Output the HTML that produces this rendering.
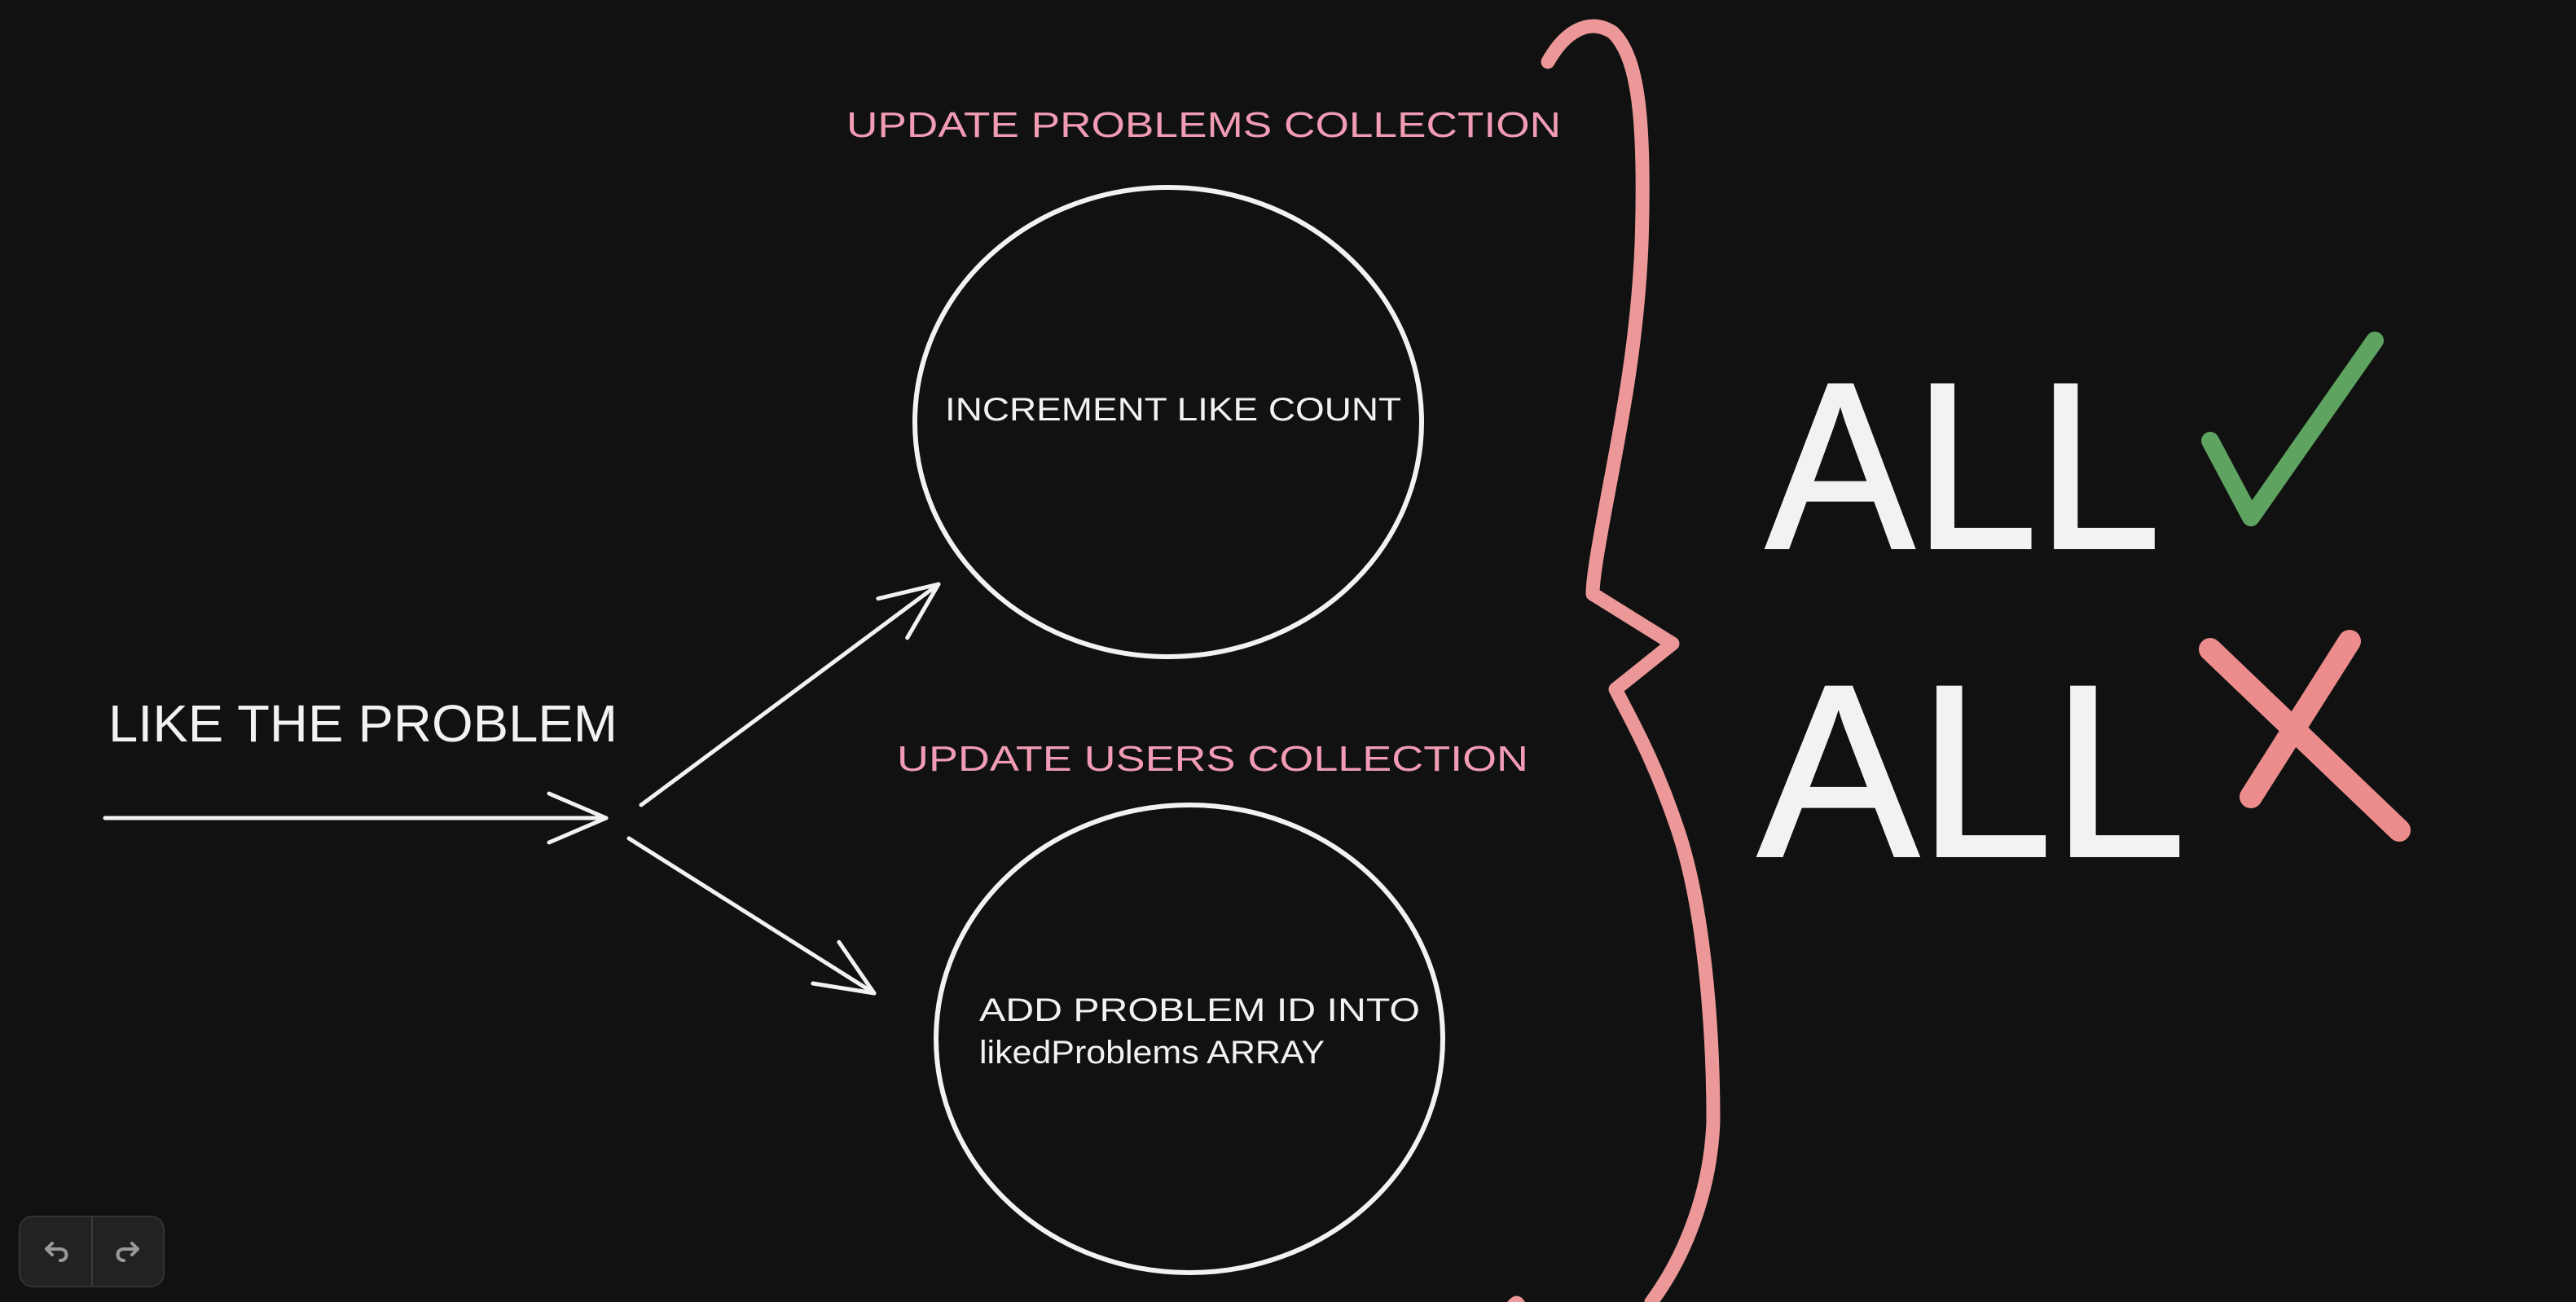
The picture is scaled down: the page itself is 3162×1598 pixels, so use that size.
<!DOCTYPE html>
<html><head><meta charset="utf-8"><style>
html,body{margin:0;padding:0;background:#111111;}
svg{display:block}
text{font-family:"Liberation Sans",sans-serif;}
</style></head><body>
<svg width="3162" height="1598" viewBox="0 0 3162 1598" xmlns="http://www.w3.org/2000/svg">
<defs>
<marker id="ah" markerWidth="20" markerHeight="20" refX="0" refY="0" viewBox="-16 -10 20 20" orient="auto" markerUnits="strokeWidth">
<path d="M-14,-6 L0,0 L-14,6" fill="none" stroke="#f2f2f2" stroke-width="1" stroke-linecap="round" stroke-linejoin="round"/>
</marker>
</defs>
<rect width="3162" height="1598" fill="#111111"/>
<g fill="#f19cb4" font-size="44">
<text x="1039" y="168" textLength="877" lengthAdjust="spacingAndGlyphs">UPDATE PROBLEMS COLLECTION</text>
<text x="1101" y="946" textLength="775" lengthAdjust="spacingAndGlyphs">UPDATE USERS COLLECTION</text>
</g>
<ellipse cx="1434" cy="518" rx="311" ry="288" fill="none" stroke="#f2f2f2" stroke-width="6"/>
<ellipse cx="1460" cy="1275" rx="311" ry="287" fill="none" stroke="#f2f2f2" stroke-width="6"/>
<g fill="#f2f2f2">
<text x="1160" y="516" font-size="40" textLength="560" lengthAdjust="spacingAndGlyphs">INCREMENT LIKE COUNT</text>
<text x="133" y="910" font-size="64" textLength="625" lengthAdjust="spacingAndGlyphs">LIKE THE PROBLEM</text>
<text x="1202" y="1253" font-size="40" textLength="541" lengthAdjust="spacingAndGlyphs">ADD PROBLEM ID INTO</text>
<text x="1202" y="1305" font-size="40" textLength="424" lengthAdjust="spacingAndGlyphs">likedProblems ARRAY</text>
</g>
<g stroke="#f2f2f2" stroke-width="5" stroke-linecap="round" fill="none">
<line x1="129" y1="1004" x2="744" y2="1004" marker-end="url(#ah)"/>
<line x1="787" y1="988" x2="1152" y2="717" marker-end="url(#ah)"/>
<line x1="772" y1="1029" x2="1073" y2="1219" marker-end="url(#ah)"/>
</g>
<path d="M1900,76 C1920,40 1950,20 1980,40 C2010,70 2020,140 2015,300 C2010,420 1990,520 1973,611 C1962,670 1955,710 1955,729 L2053,790 L1983,846 C2000,880 2030,930 2060,1020 C2090,1110 2103,1250 2103,1376 C2100,1460 2070,1540 2027,1598" fill="none" stroke="#ec9898" stroke-width="17" stroke-linecap="round" stroke-linejoin="round"/>
<path d="M1850,1598 C1858,1588 1866,1588 1872,1598" fill="#ec9898"/>
<g fill="#f2f2f2" stroke="#f2f2f2" stroke-width="4">
<text x="2168" y="672" font-size="290" textLength="484" lengthAdjust="spacingAndGlyphs">ALL</text>
<text x="2158" y="1050" font-size="300" textLength="525" lengthAdjust="spacingAndGlyphs">ALL</text>
</g>
<polyline points="2713,541 2763,635 2915,418" fill="none" stroke="#5fa360" stroke-width="22" stroke-linecap="round" stroke-linejoin="round"/>
<g stroke="#ec8c8c" stroke-width="28" stroke-linecap="round">
<line x1="2713" y1="797" x2="2945" y2="1019"/>
<line x1="2884" y1="787" x2="2763" y2="978"/>
</g>
<rect x="24" y="1493" width="177" height="86" rx="16" fill="#222222" stroke="#333" stroke-width="2"/>
<line x1="113" y1="1493" x2="113" y2="1579" stroke="#3a3a3a" stroke-width="2"/>
<g fill="none" stroke="#999" stroke-width="4" stroke-linecap="round" stroke-linejoin="round">
<path d="M64,1526 L57,1533 L64,1540 M57,1533 L74,1533 C84,1533 84,1547 74,1547"/>
<path d="M162,1526 L169,1533 L162,1540 M169,1533 L152,1533 C142,1533 142,1547 152,1547"/>
</g>
</svg>
</body></html>
